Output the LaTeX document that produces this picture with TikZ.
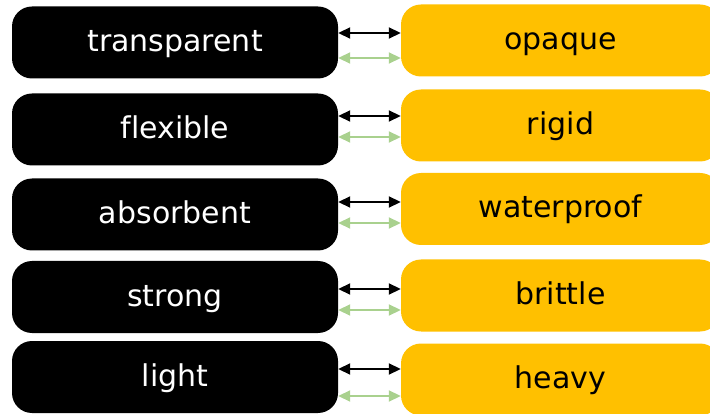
\documentclass[tikz,border=0pt]{standalone}
\usepackage{fontspec}
\setmainfont{DejaVu Sans}[Ligatures=NoCommon]
\usetikzlibrary{arrows.meta}

\definecolor{gold}{HTML}{FFC000}
\definecolor{softgreen}{HTML}{A9D18E}

\begin{document}
\begin{tikzpicture}
  [x=1pt,y=-1pt,
   wordbox/.style={rounded corners=20pt, minimum height=72pt, inner sep=0pt,
     text height=25pt, text depth=7pt, font=\fontsize{30}{36}\selectfont},
   darkbox/.style={wordbox, fill=black, text=white, minimum width=326pt},
   goldbox/.style={wordbox, fill=gold, text=black, minimum width=319pt},
   pairline/.style={line width=1.8pt, {Triangle[length=12pt,width=11pt]}-{Triangle[length=12pt,width=11pt]}},
   greenline/.style={pairline, draw=softgreen}]
  \useasboundingbox (0,0) rectangle (710,414);

  \foreach \n/\yb/\yo/\word/\opp in {1/42.5/40.5/transparent/opaque,
      2/129.5/125.5/flexible/rigid, 3/214.5/209/absorbent/waterproof,
      4/297/295.5/strong/brittle, 5/377/379.5/light/heavy}
  {
    \node[darkbox] (b\n) at (175,\yb) {\word};
    \node[goldbox] (o\n) at (560.5,\yo) {\opp};
  }

  \foreach \n/\ya/\yg in {1/33/58, 2/116/137, 3/202/223, 4/289/310, 5/369/396}
  {
    \draw[pairline] (b\n.east |- 0,\ya) -- (o\n.west |- 0,\ya);
    \draw[greenline] (b\n.east |- 0,\yg) -- (o\n.west |- 0,\yg);
  }

\end{tikzpicture}
\end{document}
